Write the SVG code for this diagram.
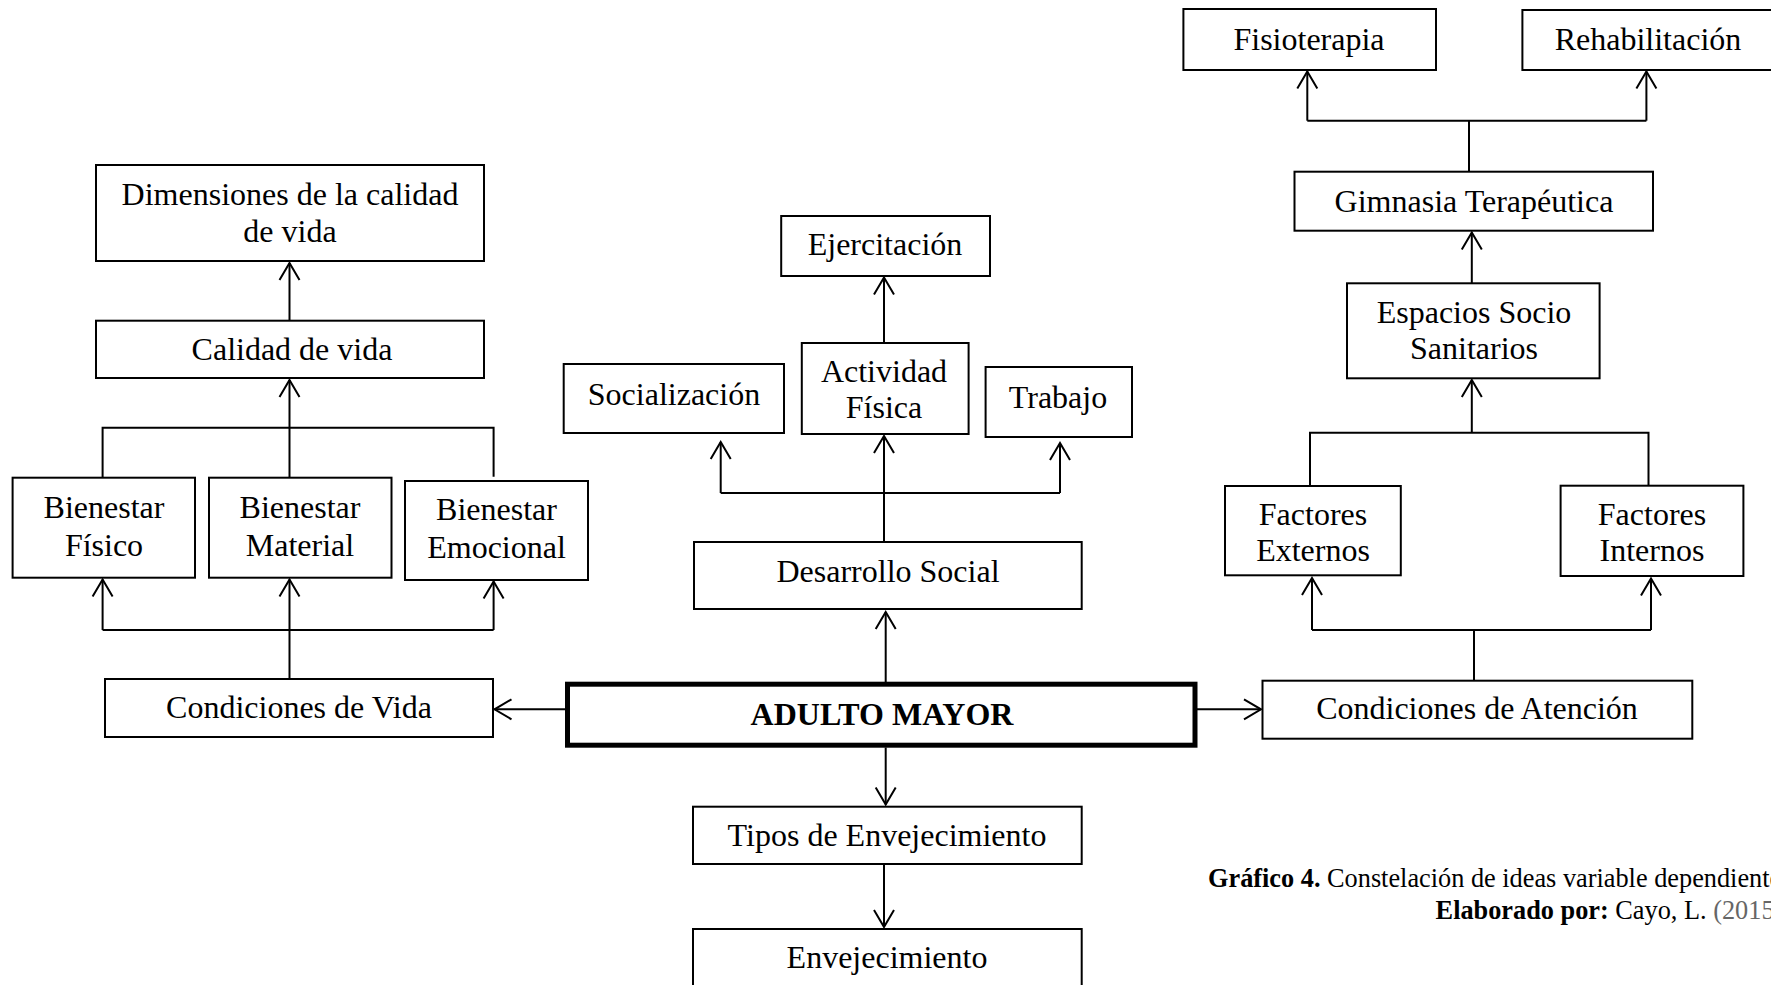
<svg xmlns="http://www.w3.org/2000/svg" width="1771" height="985" viewBox="0 0 1771 985">
<style>
.box{fill:#fff;stroke:#000;stroke-width:2}
.main{fill:#fff;stroke:#000;stroke-width:5}
.t{font-family:"Liberation Serif","Times New Roman",serif;font-size:32px;fill:#000;text-anchor:middle}
.b{font-weight:bold}
.c{font-family:"Liberation Serif","Times New Roman",serif;font-size:26.3px;fill:#000}
.ln{fill:none;stroke:#000;stroke-width:2}
.ar{fill:none;stroke:#000;stroke-width:2;marker-end:url(#arr)}
</style>
<defs>
<marker id="arr" markerUnits="userSpaceOnUse" viewBox="-19 -12 21 24" refX="0" refY="0" markerWidth="21" markerHeight="24" orient="auto">
<path d="M-17,-10 L0,0 L-17,10" fill="none" stroke="#000" stroke-width="2"/>
</marker>
</defs>
<rect width="1771" height="985" fill="#fff"/>
<g id="connectors">
<path class="ar" d="M289.5,320.7 V263"/>
<path class="ln" d="M102.6,477.7 V427.7 H493.6 V476.7"/>
<path class="ar" d="M289.5,477.7 V380"/>
<path class="ar" d="M289.5,679 V579.5"/>
<path class="ln" d="M102.6,630 H493.6"/>
<path class="ar" d="M102.6,630 V579.5"/>
<path class="ar" d="M493.6,630 V581.5"/>
<path class="ar" d="M565,709.3 H494.5"/>
<path class="ar" d="M885.7,682 V612"/>
<path class="ar" d="M884,542 V436"/>
<path class="ln" d="M720.7,493 H1060"/>
<path class="ar" d="M720.7,493 V442"/>
<path class="ar" d="M1060,493 V443"/>
<path class="ar" d="M884,343 V277.5"/>
<path class="ar" d="M885.7,747.5 V804.5"/>
<path class="ar" d="M884,864 V927"/>
<path class="ar" d="M1197,709.3 H1261"/>
<path class="ln" d="M1474,680.7 V630 M1312,630 H1651"/>
<path class="ar" d="M1312,630 V578"/>
<path class="ar" d="M1651,630 V578.5"/>
<path class="ln" d="M1310,486 V432.7 H1648.5 V486"/>
<path class="ar" d="M1471.8,432.7 V380"/>
<path class="ar" d="M1471.8,283.3 V232.5"/>
<path class="ln" d="M1469,171.7 V120.7 M1307.3,120.7 H1646.4"/>
<path class="ar" d="M1307.3,120.7 V71.5"/>
<path class="ar" d="M1646.4,120.7 V71.5"/>
</g>
<g id="n-dimensiones"><rect class="box" x="96" y="165" width="388" height="96"/><text class="t" x="290" y="205">Dimensiones de la calidad</text><text class="t" x="290" y="242">de vida</text></g>
<g id="n-calidad"><rect class="box" x="96" y="320.7" width="388" height="57.3"/><text class="t" x="292" y="360">Calidad de vida</text></g>
<g id="n-fisico"><rect class="box" x="12.6" y="477.7" width="182.4" height="100"/><text class="t" x="104" y="518">Bienestar</text><text class="t" x="104" y="556">Físico</text></g>
<g id="n-material"><rect class="box" x="209" y="477.7" width="182.5" height="100"/><text class="t" x="300" y="518">Bienestar</text><text class="t" x="300" y="556">Material</text></g>
<g id="n-emocional"><rect class="box" x="405" y="481" width="183" height="99"/><text class="t" x="496.5" y="520">Bienestar</text><text class="t" x="496.5" y="558">Emocional</text></g>
<g id="n-condvida"><rect class="box" x="105" y="679" width="388" height="58"/><text class="t" x="299" y="718">Condiciones de Vida</text></g>
<g id="n-ejercitacion"><rect class="box" x="781.2" y="216" width="208.8" height="60"/><text class="t" x="885" y="255">Ejercitación</text></g>
<g id="n-socializacion"><rect class="box" x="563.7" y="364" width="220.3" height="69"/><text class="t" x="674" y="405">Socialización</text></g>
<g id="n-actividad"><rect class="box" x="801.8" y="343" width="166.8" height="91"/><text class="t" x="884" y="382">Actividad</text><text class="t" x="884" y="418">Física</text></g>
<g id="n-trabajo"><rect class="box" x="985.6" y="367" width="146.4" height="70"/><text class="t" x="1058" y="408">Trabajo</text></g>
<g id="n-desarrollo"><rect class="box" x="694" y="542" width="387.7" height="67"/><text class="t" x="888" y="582">Desarrollo Social</text></g>
<g id="n-adulto"><rect class="main" x="567.5" y="684.2" width="627.5" height="61"/><text class="t b" x="882" y="725">ADULTO MAYOR</text></g>
<g id="n-tipos"><rect class="box" x="693" y="806.7" width="388.7" height="57.3"/><text class="t" x="887" y="846">Tipos de Envejecimiento</text></g>
<g id="n-envejecimiento"><rect class="box" x="693" y="929" width="388.7" height="70"/><text class="t" x="887" y="968">Envejecimiento</text></g>
<g id="n-fisioterapia"><rect class="box" x="1183.4" y="9" width="252.6" height="61"/><text class="t" x="1309" y="50">Fisioterapia</text></g>
<g id="n-rehabilitacion"><rect class="box" x="1522.4" y="10" width="260" height="60"/><text class="t" x="1648" y="50">Rehabilitación</text></g>
<g id="n-gimnasia"><rect class="box" x="1294.5" y="171.7" width="358.5" height="59"/><text class="t" x="1474" y="211.7">Gimnasia Terapéutica</text></g>
<g id="n-espacios"><rect class="box" x="1347" y="283.3" width="252.6" height="95"/><text class="t" x="1474" y="322.7">Espacios Socio</text><text class="t" x="1474" y="359.3">Sanitarios</text></g>
<g id="n-externos"><rect class="box" x="1225" y="486" width="175.8" height="89.3"/><text class="t" x="1313" y="525">Factores</text><text class="t" x="1313" y="561">Externos</text></g>
<g id="n-internos"><rect class="box" x="1560.6" y="485.7" width="182.8" height="90.3"/><text class="t" x="1652" y="525">Factores</text><text class="t" x="1652" y="561">Internos</text></g>
<g id="n-condatencion"><rect class="box" x="1262.5" y="680.7" width="429.8" height="58"/><text class="t" x="1477" y="719.3">Condiciones de Atención</text></g>
<g id="caption">
<text class="c" x="1208" y="886.7"><tspan font-weight="bold">Gráfico 4.</tspan> Constelación de ideas variable dependiente</text>
<text class="c" x="1435.6" y="919"><tspan font-weight="bold">Elaborado por:</tspan> Cayo, L. <tspan fill="#666">(2015)</tspan></text>
</g>
</svg>
